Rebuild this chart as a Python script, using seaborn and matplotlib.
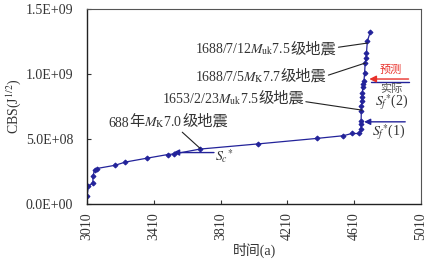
import matplotlib
matplotlib.use('Agg')
import matplotlib.pyplot as plt
import seaborn as sns
import pandas as pd

# 数据
years = [3010, 3018, 3045, 3045, 3055, 3068, 3178, 3240, 3370, 3494, 3528,
         3687, 4036, 4385, 4545, 4595, 4641, 4650, 4651, 4651, 4652, 4653,
         4656, 4657, 4659, 4660, 4664, 4668, 4672, 4675, 4680, 4683, 4688, 4705]
cbs = [0.60e8, 1.33e8, 1.60e8, 2.10e8, 2.60e8, 2.70e8, 2.95e8, 3.20e8, 3.50e8, 3.78e8, 3.82e8,
       4.20e8, 4.60e8, 5.02e8, 5.23e8, 5.40e8, 5.40e8, 5.75e8, 6.13e8, 6.40e8, 7.15e8, 7.54e8,
       7.92e8, 8.18e8, 8.56e8, 8.95e8, 9.25e8, 9.46e8, 1.01e9, 1.08e9, 1.125e9, 1.16e9, 1.25e9, 1.32e9]
xticks = [3010, 3410, 3810, 4210, 4610, 5010]
yticks = [0, 5e8, 1e9, 1.5e9]
ytick_labels = ['0.0E+00', '5.0E+08', '1.0E+09', '1.5E+09']

df = pd.DataFrame({'year': years, 'cbs': cbs})

sns.set_style('ticks')
plt.rcParams['font.family'] = ['Liberation Serif', 'Noto Sans CJK SC']
plt.rcParams['mathtext.fontset'] = 'stix'

blue = '#23239a'
txt = '#333333'
cjk = ['Noto Sans CJK SC']

fig = plt.figure(figsize=(4.31, 2.64), dpi=100)
ax = fig.add_axes([0.202, 0.229, 0.775, 0.737])

sns.lineplot(data=df, x='year', y='cbs', sort=False, estimator=None, color=blue,
             marker='D', markersize=2.5, markeredgecolor=blue, linewidth=0.9, ax=ax)

ax.set_xlim(3010, 5010)
ax.set_ylim(0, 1.5e9)
ax.set_xticks(xticks)
ax.set_xticklabels([str(t) for t in xticks], rotation=90, fontsize=10, color=txt)
ax.set_yticks(yticks)
ax.set_yticklabels(ytick_labels, fontsize=10, color=txt)
ax.tick_params(direction='in', length=3, colors='#333333', labelcolor=txt)
ax.tick_params(axis='y', pad=10)
ax.tick_params(axis='x', pad=6)
ax.set_xlabel('时间(a)', fontsize=10, color=txt, labelpad=2)
ax.set_ylabel(r'CBS(J$^{\rm 1/2}$)', fontsize=10, color=txt, labelpad=2)

for s in ['left', 'bottom']:
    ax.spines[s].set_color('#222222')
    ax.spines[s].set_linewidth(1.0)
for s in ['top', 'right']:
    ax.spines[s].set_color('#555555')
    ax.spines[s].set_linewidth(0.8)


def label(pieces, x, y):
    # 从右往左拼接文字 (数学文字和中文分开画)
    prev = None
    for s, is_cjk in reversed(pieces):
        kw = dict(fontsize=11, family=cjk) if is_cjk else dict(fontsize=10)
        if prev is None:
            prev = ax.text(x, y, s, ha='right', va='baseline', color=txt, **kw)
        else:
            prev = ax.annotate(s, xy=(0, 0), xycoords=prev, ha='right', va='bottom',
                               color=txt, annotation_clip=False, **kw)
    return prev


lp = dict(arrowstyle='-', color='#222222', lw=0.8, shrinkA=0, shrinkB=0)

label([(r'1688/7/12$M_{\rm uk}$7.5', False), ('级地震', True)], 4505, 1.16e9)
ax.annotate('', xy=(4688, 1.237e9), xytext=(4515, 1.205e9), arrowprops=lp)

label([(r'1688/7/5$M_{\rm K}$7.7', False), ('级地震', True)], 4445, 0.945e9)
ax.annotate('', xy=(4675, 1.083e9), xytext=(4455, 0.99e9), arrowprops=lp)

label([(r'1653/2/23$M_{\rm uk}$7.5', False), ('级地震', True)], 4310, 0.775e9)
ax.annotate('', xy=(4657, 0.72e9), xytext=(4320, 0.785e9), arrowprops=lp)

label([('688', False), ('年', True), (r'$M_{\rm K}$7.0', False), ('级地震', True)], 3855, 0.60e9)
ax.annotate('', xy=(3687, 0.425e9), xytext=(3580, 0.55e9), arrowprops=lp)

# S 箭头
ap = dict(arrowstyle='-|>', color=blue, lw=1.0, mutation_scale=9, shrinkA=0, shrinkB=0)
ax.annotate('', xy=(3525, 3.93e8), xytext=(3770, 3.93e8), arrowprops=ap)
ax.text(3775, 3.62e8, r'$S_c{}^{*}$', fontsize=10, color=txt, ha='left', va='center')
ax.annotate('', xy=(4669, 6.3e8), xytext=(4915, 6.3e8), arrowprops=ap)
ax.text(4715, 5.5e8, r'$S_f{}^{*}$(1)', fontsize=10, color=txt, ha='left', va='center')

ap_r = dict(arrowstyle='-|>', color='#e8302a', lw=1.0, mutation_scale=10, shrinkA=0, shrinkB=0)
ax.annotate('', xy=(4700, 9.6e8), xytext=(4935, 9.6e8), arrowprops=ap_r)
ax.plot([4712, 4935], [9.38e8, 9.38e8], color=blue, lw=1.0)
ax.text(4830, 1.03e9, '预测', fontsize=8, family=cjk, color='#e8302a', ha='center', va='center')
ax.text(4830, 0.885e9, '实际', fontsize=8, family=cjk, color='#555555', ha='center', va='center')
ax.text(4836, 0.78e9, r'$S_f{}^{*}$(2)', fontsize=10, color=txt, ha='center', va='center')

fig.savefig('out.png', dpi=100)
plt.close()
